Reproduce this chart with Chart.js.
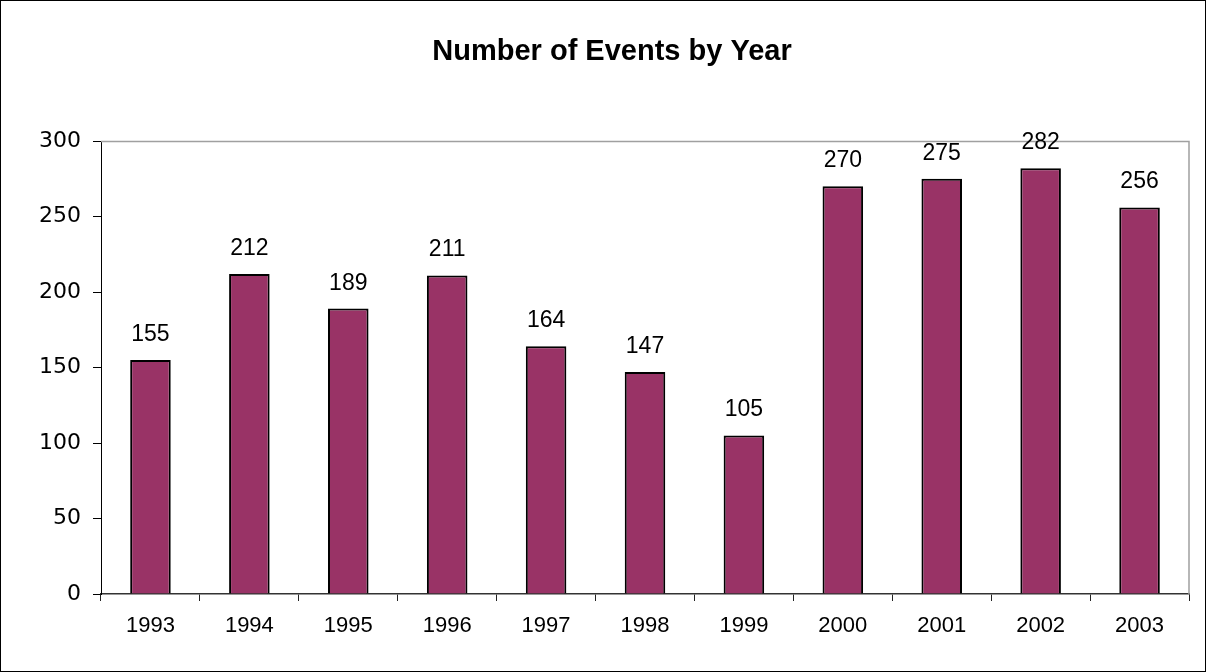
<!DOCTYPE html>
<html>
<head>
<meta charset="utf-8">
<script src="https://cdn.jsdelivr.net/npm/chart.js@4/dist/chart.umd.min.js"></script>
<style>
  html, body { margin: 0; padding: 0; background: #fff; }
  #wrap { width: 1206px; height: 672px; position: relative; }
</style>
</head>
<body>
<div id="wrap"><canvas id="c" width="1206" height="672"></canvas></div>
<script>
// Annual event counts
const years = ['1993', '1994', '1995', '1996', '1997', '1998', '1999', '2000', '2001', '2002', '2003'];
const eventCounts = [155, 212, 189, 211, 164, 147, 105, 270, 275, 282, 256];
const yTicks = [0, 50, 100, 150, 200, 250, 300];
const chartTitle = 'Number of Events by Year';

const SANS = "'Liberation Sans', Arial, sans-serif";

// Outer frame, title, plot-area frame and value labels
const decorations = {
  id: 'decorations',
  beforeDraw(chart) {
    const ctx = chart.ctx;
    ctx.save();
    ctx.fillStyle = '#fff';
    ctx.fillRect(0, 0, chart.width, chart.height);
    ctx.restore();
  },
  afterDatasetsDraw(chart) {
    const ctx = chart.ctx;
    const a = chart.chartArea;
    ctx.save();
    // plot area frame (top and right)
    ctx.strokeStyle = '#a0a0a0';
    ctx.lineWidth = 1.5;
    ctx.beginPath();
    ctx.moveTo(a.left, a.top + 0.5);
    ctx.lineTo(a.right, a.top + 0.5);
    ctx.lineTo(a.right, a.bottom);
    ctx.stroke();

    // title
    ctx.fillStyle = '#000';
    ctx.font = "bold 29px " + SANS;
    ctx.textAlign = 'center';
    ctx.textBaseline = 'middle';
    ctx.fillText(chartTitle, 612, 52);

    // value labels above bars
    const meta = chart.getDatasetMeta(0);
    ctx.font = "23px " + SANS;
    ctx.textBaseline = 'alphabetic';
    meta.data.forEach((bar, i) => {
      ctx.fillText(String(eventCounts[i]), bar.x, bar.y - 19);
    });

    // outer frame
    ctx.strokeStyle = '#000';
    ctx.lineWidth = 1;
    ctx.strokeRect(0.5, 0.5, chart.width - 1, chart.height - 1);
    ctx.restore();
  }
};

new Chart(document.getElementById('c'), {
  type: 'bar',
  data: {
    labels: years,
    datasets: [{
      data: eventCounts,
      backgroundColor: '#993366',
      borderColor: '#000',
      borderWidth: 2,
      barPercentage: 0.41,
      categoryPercentage: 1.0
    }]
  },
  options: {
    responsive: false,
    animation: false,
    devicePixelRatio: 1,
    layout: { padding: { left: 0, right: 17, top: 141, bottom: 0 } },
    plugins: {
      legend: { display: false },
      title: { display: false },
      tooltip: { enabled: false }
    },
    scales: {
      x: {
        grid: {
          offset: true,
          drawOnChartArea: false,
          drawTicks: true,
          tickLength: 7,
          color: '#222'
        },
        border: { color: '#333', width: 1.5 },
        ticks: {
          color: '#000',
          font: { family: SANS, size: 22 },
          padding: 12,
          maxRotation: 0
        },
        afterFit(scale) { scale.height = 78; }
      },
      y: {
        min: 0,
        max: 300,
        afterBuildTicks(scale) { scale.ticks = yTicks.map(v => ({ value: v })); },
        grid: {
          drawOnChartArea: false,
          drawTicks: true,
          tickLength: 8,
          color: '#000'
        },
        border: { color: '#000', width: 1 },
        ticks: {
          color: '#000',
          font: { family: "'DejaVu Sans', Verdana, sans-serif", size: 22 },
          padding: 12
        },
        afterFit(scale) { scale.width = 101; }
      }
    }
  },
  plugins: [decorations]
});
</script>
</body>
</html>
